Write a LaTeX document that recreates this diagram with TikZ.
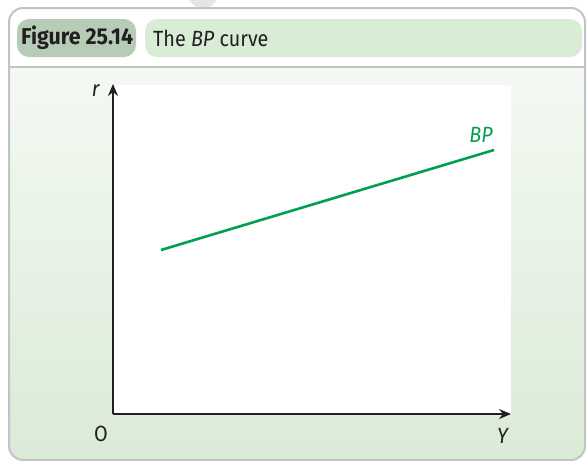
\documentclass[tikz,border=0pt]{standalone}
\usepackage{fontspec}
\setmainfont{Fira Sans}
\newfontfamily\titlefont[FakeStretch=0.9]{Fira Sans}
\newfontfamily\figfont[FakeStretch=0.93]{Fira Sans}
\usetikzlibrary{arrows.meta}
\definecolor{framegray}{HTML}{C2C3C7}
\definecolor{pilldark}{HTML}{B6CCB6}
\definecolor{pilllight}{HTML}{D9ECD6}
\definecolor{bgtop}{HTML}{F4F9F3}
\definecolor{bgbot}{HTML}{DAEBD6}
\definecolor{bpgreen}{HTML}{00A04F}
\definecolor{textdark}{HTML}{231F20}
\tikzset{
  pill/.style={rounded corners=12pt},
  axis/.style={line width=1.4pt, draw=textdark, -{Stealth[length=12pt,width=10pt]}},
  axlabel/.style={font=\titlefont\fontsize{22}{24}\selectfont, text=textdark, inner sep=0pt},
}
\begin{document}
\begin{tikzpicture}[x=1pt,y=-1pt]
\useasboundingbox (0,0) rectangle (587,461);
\fill[white] (0,0) rectangle (587,461);
% watermark wedge
\fill[gray!20] (189,0) -- (217,0) -- (203,14) -- cycle;
% frame body
\begin{scope}
\clip[rounded corners=14pt] (9,8) rectangle (585,460);
\fill[white!97!green!3] (9,8) rectangle (585,67);
\shade[top color=bgtop, bottom color=bgbot] (9,67) rectangle (585,460);
\fill[white] (113,85) rectangle (511,414);
\end{scope}
\draw[framegray, line width=2pt, rounded corners=14pt] (9,8) rectangle (585,460);
\draw[framegray, line width=2pt] (9,67) -- (585,67);
% title pills
\fill[pilldark, pill] (17,19) rectangle (136,57);
\fill[pilllight, pill] (145,19) rectangle (582,57);
\node[anchor=west, inner sep=0pt, text=textdark, font=\figfont\fontsize{23}{25}\selectfont\bfseries] (fig) at (21,38) {Figure 25.14};
\node[anchor=west, inner sep=0pt, text=textdark, font=\titlefont\fontsize{22}{24}\selectfont] (ttl) at (153,38) {The \textit{BP} curve};
% axes
\coordinate (O) at (113,414);
\coordinate (ytip) at (113,84);
\coordinate (xtip) at (511,414);
\draw[axis] (O) -- (ytip);
\draw[axis] (O) -- (xtip);
\node[axlabel] (rl) at (96,91) {\textit{r}};
\node[axlabel] (ol) at (101,434) {O};
\node[axlabel] (yl) at (503,436) {\textit{Y}};
% BP curve
\coordinate (bp1) at (161,250);
\coordinate (bp2) at (494,150);
\draw[bpgreen, line width=2.6pt] (bp1) -- (bp2);
\node[axlabel, text=bpgreen] (bpl) at (481,135) {\textit{BP}};
\end{tikzpicture}
\end{document}
